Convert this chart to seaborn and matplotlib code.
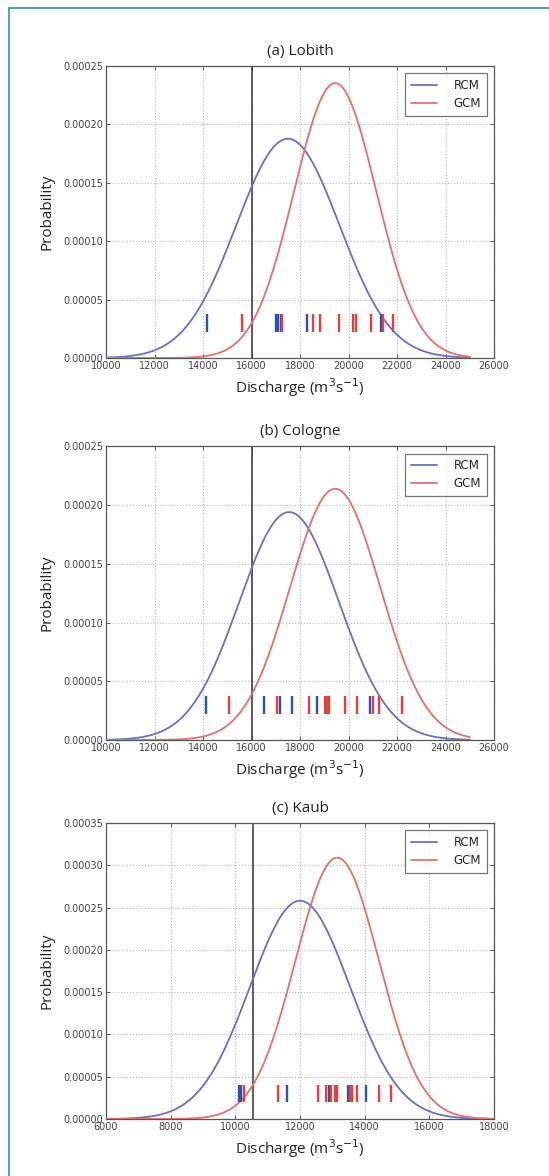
import numpy as np
import pandas as pd
import matplotlib
matplotlib.use("Agg")
import matplotlib.pyplot as plt
import seaborn as sns
from matplotlib.ticker import FormatStrFormatter, MultipleLocator
from matplotlib.patches import Rectangle

# ---------------- data ----------------
titles = ["(a) Lobith", "(b) Cologne", "(c) Kaub"]
series = ["RCM", "GCM"]

# normal fits (mean, sd)
rcm_mean = [17500, 17550, 12000]
rcm_sd = [2125, 2055, 1546]
gcm_mean = [19450, 19450, 13150]
gcm_sd = [1695, 1864, 1291]

# observed ensemble members (rug marks)
rcm_a = [14150, 17000, 17100, 17200, 18300, 21350]
gcm_a = [15600, 17270, 18530, 18840, 19600, 20200, 20320, 20930, 21420, 21820]
rcm_b = [14120, 16520, 17170, 17690, 18700, 20890]
gcm_b = [15070, 17070, 18370, 19020, 19110, 19190, 19840, 20360, 21000, 21250, 22220]
rcm_c = [10100, 10160, 11590, 12890, 13480, 13530, 14050]
gcm_c = [10280, 11320, 12560, 12810, 12970, 13080, 13140, 13560, 13620, 13770, 14440, 14820]
rcm_obs = [rcm_a, rcm_b, rcm_c]
gcm_obs = [gcm_a, gcm_b, gcm_c]

ref_line = [16000, 16000, 10550]          # vertical reference discharge
curve_range = [(10000, 25000), (10000, 25000), (6000, 18000)]
x_limits = [(10000, 26000), (10000, 26000), (6000, 18000)]
y_tops = [0.00025, 0.00025, 0.00035]
rug_level = 0.00003

# ---------------- style ----------------
sns.set_theme(style="white")
plt.rcParams["font.family"] = ["DejaVu Sans"]

c_rcm_line = "#6e6ec2"
c_gcm_line = "#e27070"
c_rcm_rug = "#3050b0"
c_gcm_rug = "#e04040"

fig = plt.figure(figsize=(5.49, 11.76), dpi=100)

# teal frame around the figure
fig.patches.append(Rectangle((9 / 549, -0.05), 1.2, 1.05 - 8 / 1176,
                             transform=fig.transFigure, fill=False,
                             edgecolor="#3c9fa8", linewidth=1.3, zorder=0))

left, width = 106 / 549, 388 / 549
panel_px = [(66, 358), (446.5, 740), (823, 1119)]

for i in range(3):
    top_px, bot_px = panel_px[i]
    ax = fig.add_axes([left, 1 - bot_px / 1176, width, (bot_px - top_px) / 1176])

    x = np.linspace(curve_range[i][0], curve_range[i][1], 400)
    pdf_r = np.exp(-0.5 * ((x - rcm_mean[i]) / rcm_sd[i]) ** 2) / (rcm_sd[i] * np.sqrt(2 * np.pi))
    pdf_g = np.exp(-0.5 * ((x - gcm_mean[i]) / gcm_sd[i]) ** 2) / (gcm_sd[i] * np.sqrt(2 * np.pi))
    df = pd.DataFrame({"x": np.concatenate([x, x]),
                       "p": np.concatenate([pdf_r, pdf_g]),
                       "model": ["RCM"] * len(x) + ["GCM"] * len(x)})
    sns.lineplot(data=df, x="x", y="p", hue="model", hue_order=series,
                 palette=[c_rcm_line, c_gcm_line], linewidth=1.3, ax=ax,
                 legend=True, zorder=3)

    ax.axvline(ref_line[i], color="#333333", linewidth=1.1, zorder=2)

    rug = pd.DataFrame({"x": rcm_obs[i] + gcm_obs[i],
                        "y": [rug_level] * (len(rcm_obs[i]) + len(gcm_obs[i])),
                        "model": ["RCM"] * len(rcm_obs[i]) + ["GCM"] * len(gcm_obs[i])})
    sns.scatterplot(data=rug, x="x", y="y", hue="model", hue_order=series,
                    palette=[c_rcm_rug, c_gcm_rug], marker="|", s=160,
                    linewidth=1.7, ax=ax, legend=False, zorder=4)

    ax.set_xlim(*x_limits[i])
    ax.set_ylim(0, y_tops[i])
    ax.xaxis.set_major_locator(MultipleLocator(2000))
    ax.yaxis.set_major_locator(MultipleLocator(0.00005))
    ax.yaxis.set_major_formatter(FormatStrFormatter("%.5f"))
    ax.grid(True, linestyle=":", color="#b8b8b8", linewidth=0.8)
    ax.tick_params(axis="both", labelsize=7, colors="#444444", direction="in",
                   length=3, width=0.6, pad=2, top=True, right=True, bottom=True, left=True)
    for sp in ax.spines.values():
        sp.set_color("#555555")
        sp.set_linewidth(0.9)

    ax.set_title(titles[i], fontsize=11, family="Open Sans", color="#222222", pad=8)
    ax.set_xlabel("Discharge (m$^3$s$^{-1}$)", fontsize=11, family="Open Sans",
                  color="#222222", labelpad=4)
    ax.set_ylabel("Probability", fontsize=11, family="Open Sans", color="#222222",
                  labelpad=6)

    leg = ax.legend(loc="upper right", fontsize=8.5, frameon=True, fancybox=False,
                    borderaxespad=0.6, handlelength=2.2, handletextpad=1.4,
                    borderpad=0.5, labelspacing=0.4)
    leg.get_frame().set_edgecolor("#555555")
    leg.get_frame().set_linewidth(0.9)
    leg.set_title(None)

fig.savefig("out.png", dpi=100)
